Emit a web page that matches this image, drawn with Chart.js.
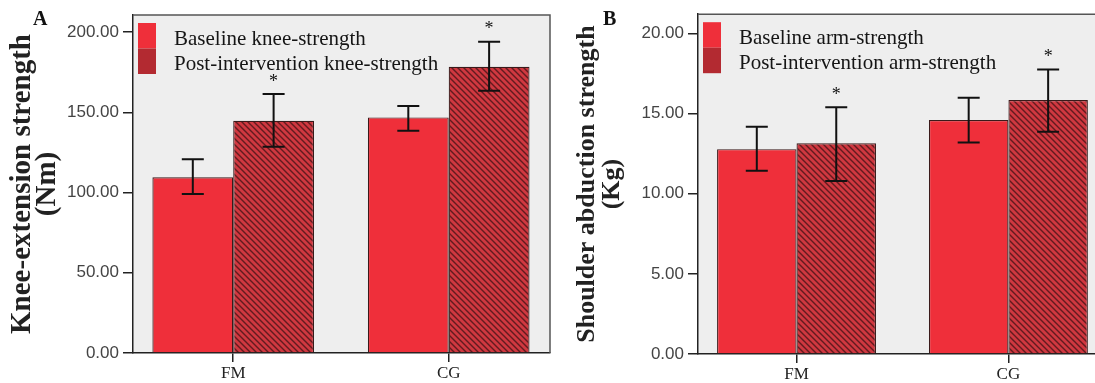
<!DOCTYPE html>
<html>
<head>
<meta charset="utf-8">
<script src="https://cdn.jsdelivr.net/npm/chart.js@4.4.1/dist/chart.umd.min.js"></script>
<style>
html, body { margin: 0; padding: 0; background: #fff; overflow: hidden; width: 1095px; height: 383px; }
#wrapA { position: absolute; left: 0; top: 0; }
#wrapB { position: absolute; left: 565px; top: 0; }
</style>
</head>
<body>
<div id="wrapA"><canvas id="chartA" width="560" height="383"></canvas></div>
<div id="wrapB"><canvas id="chartB" width="553" height="383"></canvas></div>
<script>
var groups = ['FM', 'CG'];

// panel A - knee
var kneeBase = [109.5, 146.8];
var kneeBaseLow = [99, 138.5];
var kneeBaseHigh = [120.7, 153.9];
var kneePost = [144.7, 178.4];
var kneePostLow = [128.5, 163.4];
var kneePostHigh = [161.4, 194];
var kneeTicks = [0, 50, 100, 150, 200];

// panel B - arm
var armBase = [12.78, 14.6];
var armBaseLow = [11.43, 13.19];
var armBaseHigh = [14.18, 15.98];
var armPost = [13.15, 15.84];
var armPostLow = [10.8, 13.87];
var armPostHigh = [15.4, 17.75];
var armTicks = [0, 5, 10, 15, 20];

function hatch() {
    var c = document.createElement('canvas');
    c.width = 6; c.height = 6;
    var g = c.getContext('2d');
    g.fillStyle = '#d03840';
    g.fillRect(0, 0, 6, 6);
    g.strokeStyle = '#621b1f';
    g.lineWidth = 1.4;
    g.beginPath();
    g.moveTo(0, 0); g.lineTo(6, 6);
    g.moveTo(-3, 3); g.lineTo(3, 9);
    g.moveTo(3, -3); g.lineTo(9, 3);
    g.stroke();
    return g.createPattern(c, 'repeat');
}

var toPoints = function (vals) {
    return vals.map(function (v, i) { return {x: i, y: v}; });
};

var panelPlugin = {
    id: 'panel',
    beforeDraw: function (chart) {
        var a = chart.chartArea, ctx = chart.ctx;
        ctx.save();
        ctx.fillStyle = '#eeeeee';
        ctx.fillRect(a.left, a.top, a.right - a.left, a.bottom - a.top);
        ctx.restore();
    },
    afterDatasetsDraw: function (chart) {
        var ctx = chart.ctx, y = chart.scales.y;
        chart.data.datasets.forEach(function (ds, i) {
            var meta = chart.getDatasetMeta(i);
            meta.data.forEach(function (bar, j) {
                var top = y.getPixelForValue(ds.errHigh[j]);
                var bot = y.getPixelForValue(ds.errLow[j]);
                ctx.save();
                ctx.strokeStyle = '#111';
                ctx.lineWidth = 2;
                ctx.beginPath();
                ctx.moveTo(bar.x, top); ctx.lineTo(bar.x, bot);
                ctx.moveTo(bar.x - 11, top); ctx.lineTo(bar.x + 11, top);
                ctx.moveTo(bar.x - 11, bot); ctx.lineTo(bar.x + 11, bot);
                ctx.stroke();
                if (ds.star) {
                    ctx.fillStyle = '#111';
                    ctx.font = '18px "Liberation Serif"';
                    ctx.textAlign = 'center';
                    ctx.textBaseline = 'middle';
                    ctx.fillText('*', bar.x, top - 12);
                }
                ctx.restore();
            });
        });
    },
    afterDraw: function (chart) {
        var a = chart.chartArea, ctx = chart.ctx;
        var opts = chart.options.plugins.panel;
        ctx.save();
        // frame top / right
        ctx.strokeStyle = '#555';
        ctx.lineWidth = 1.5;
        ctx.beginPath();
        ctx.moveTo(a.left, a.top); ctx.lineTo(a.right, a.top); ctx.lineTo(a.right, a.bottom);
        ctx.stroke();
        // legend
        chart.data.datasets.forEach(function (ds, i) {
            var y0 = a.top + 8 + i * 25.5;
            ctx.fillStyle = i === 0 ? ds.backgroundColor : '#b32a31';
            ctx.fillRect(a.left + 5, y0, 18, 25.5);
            ctx.fillStyle = '#151515';
            ctx.font = '21px "Liberation Serif"';
            ctx.textAlign = 'left';
            ctx.textBaseline = 'middle';
            ctx.fillText(ds.label, a.left + 41, y0 + 16);
        });
        // panel letter
        ctx.fillStyle = '#111';
        ctx.font = 'bold 20px "Liberation Serif"';
        ctx.textAlign = 'left';
        ctx.textBaseline = 'middle';
        ctx.fillText(opts.letter, opts.letterX, 20);
        ctx.restore();
    }
};

var makeChart = function (id, p) {
    var ctx = document.getElementById(id).getContext('2d');
    return new Chart(ctx, {
        type: 'bar',
        data: {
            datasets: [{
                label: p.labels[0],
                data: toPoints(p.base),
                errLow: p.baseLow,
                errHigh: p.baseHigh,
                star: false,
                backgroundColor: '#ef2f3a',
                borderColor: '#3a1a1a',
                borderWidth: 1.2
            }, {
                label: p.labels[1],
                data: toPoints(p.post),
                errLow: p.postLow,
                errHigh: p.postHigh,
                star: true,
                backgroundColor: hatch(),
                borderColor: '#3a1a1a',
                borderWidth: 1.2
            }]
        },
        options: {
            responsive: false,
            animation: false,
            categoryPercentage: 0.75,
            barPercentage: 1,
            layout: {padding: {top: p.top, right: 10, left: 0, bottom: 0}},
            plugins: {
                legend: {display: false},
                tooltip: {enabled: false},
                panel: {letter: p.letter, letterX: p.letterX}
            },
            scales: {
                x: {
                    type: 'linear',
                    offset: false,
                    min: -0.465,
                    max: 1.47,
                    afterBuildTicks: function (s) {
                        s.ticks = groups.map(function (g, i) { return {value: i}; });
                    },
                    afterFit: function (s) { s.height = 383 - p.bottom; },
                    grid: {drawOnChartArea: false, offset: false, tickLength: 9, color: '#222', lineWidth: 1.5},
                    border: {color: '#222', width: 1.5},
                    ticks: {
                        padding: 1,
                        color: '#222',
                        font: {family: '"Liberation Serif"', size: 17},
                        callback: function (v) { return groups[v]; }
                    }
                },
                y: {
                    min: 0,
                    max: p.max,
                    afterBuildTicks: function (s) {
                        s.ticks = p.ticks.map(function (t) { return {value: t}; });
                    },
                    afterFit: function (s) { s.width = 133; },
                    grid: {drawOnChartArea: false, tickLength: 10, color: '#222', lineWidth: 1.5},
                    border: {color: '#222', width: 1.5},
                    ticks: {
                        padding: 4,
                        color: '#444',
                        font: {family: '"Liberation Sans"', size: 17},
                        callback: function (v) { return v.toFixed(2); }
                    },
                    title: {
                        display: true,
                        text: p.title,
                        color: '#222',
                        padding: {top: 10, bottom: 0},
                        font: {family: '"Liberation Serif"', size: p.titleSize, weight: 'bold', lineHeight: 25 / p.titleSize}
                    }
                }
            }
        },
        plugins: [panelPlugin]
    });
};

makeChart('chartA', {
    labels: ['Baseline knee-strength', 'Post-intervention knee-strength'],
    base: kneeBase, baseLow: kneeBaseLow, baseHigh: kneeBaseHigh,
    post: kneePost, postLow: kneePostLow, postHigh: kneePostHigh,
    ticks: kneeTicks, max: 210.6,
    title: ['Knee-extension strength', '(Nm)'], titleSize: 29,
    letter: 'A', letterX: 33, top: 15, bottom: 353
});

makeChart('chartB', {
    labels: ['Baseline arm-strength', 'Post-intervention arm-strength'],
    base: armBase, baseLow: armBaseLow, baseHigh: armBaseHigh,
    post: armPost, postLow: armPostLow, postHigh: armPostHigh,
    ticks: armTicks, max: 21.2,
    title: ['Shoulder abduction strength', '(Kg)'], titleSize: 26,
    letter: 'B', letterX: 38, top: 13, bottom: 354
});
</script>
</body>
</html>
